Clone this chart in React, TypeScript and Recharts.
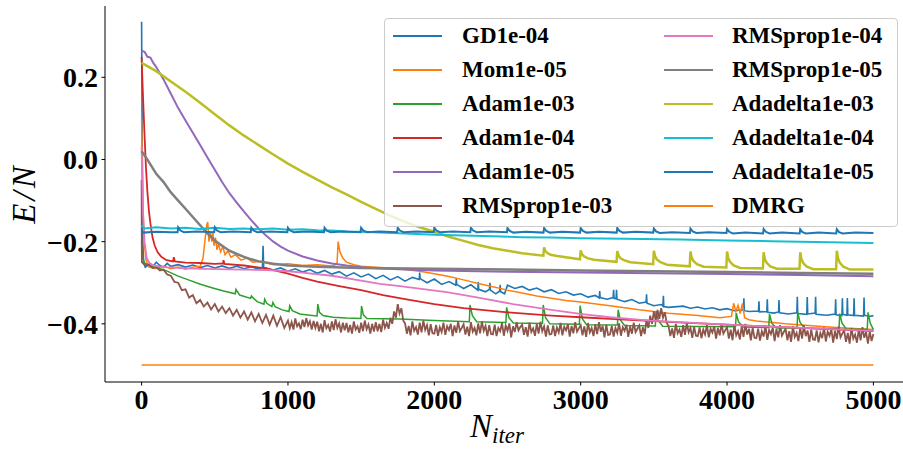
import React from 'react';
import { LineChart, Line, XAxis, YAxis, Legend } from 'recharts';

type P = [number, number];

const ITER_TICKS = [0, 1000, 2000, 3000, 4000, 5000];
const ENERGY_TICKS = [-0.4, -0.2, 0, 0.2];

const gd1e04: P[] = [[0,0.335],[4,0.05],[8,-0.2],[14,-0.25],[25,-0.262],[50,-0.256],[75,-0.262],[100,-0.25],[125,-0.258],[150,-0.262],[175,-0.253],[200,-0.26],[250,-0.256],[300,-0.262],[350,-0.257],[400,-0.263],[450,-0.258],[500,-0.264],[550,-0.259],[600,-0.265],[650,-0.26],[700,-0.266],[750,-0.261],[800,-0.267],[826,-0.262],[830,-0.21],[834,-0.263],[850,-0.264],[900,-0.269],[950,-0.264],[1000,-0.272],[1050,-0.266],[1100,-0.274],[1150,-0.268],[1200,-0.277],[1250,-0.27],[1300,-0.279],[1350,-0.273],[1400,-0.284],[1450,-0.276],[1500,-0.286],[1550,-0.279],[1600,-0.29],[1650,-0.282],[1700,-0.293],[1750,-0.285],[1800,-0.296],[1850,-0.287],[1897,-0.292],[1900,-0.275],[1903,-0.29],[1950,-0.3],[2000,-0.291],[2050,-0.304],[2100,-0.297],[2147,-0.306],[2150,-0.29],[2153,-0.304],[2200,-0.314],[2250,-0.305],[2297,-0.318],[2300,-0.298],[2303,-0.316],[2350,-0.322],[2377,-0.316],[2380,-0.3],[2383,-0.318],[2420,-0.327],[2447,-0.32],[2450,-0.305],[2453,-0.322],[2480,-0.327],[2500,-0.306],[2550,-0.314],[2600,-0.309],[2650,-0.318],[2700,-0.313],[2750,-0.322],[2800,-0.317],[2850,-0.326],[2900,-0.322],[2950,-0.33],[3000,-0.327],[3050,-0.335],[3100,-0.331],[3127,-0.337],[3130,-0.32],[3133,-0.336],[3180,-0.34],[3222,-0.336],[3225,-0.317],[3228,-0.338],[3242,-0.339],[3245,-0.317],[3248,-0.34],[3300,-0.346],[3350,-0.341],[3400,-0.35],[3447,-0.347],[3450,-0.328],[3453,-0.35],[3500,-0.356],[3550,-0.353],[3562,-0.357],[3565,-0.332],[3568,-0.358],[3600,-0.36],[3700,-0.357],[3750,-0.362],[3800,-0.359],[3850,-0.364],[3900,-0.361],[3950,-0.366],[4000,-0.363],[4050,-0.368],[4112,-0.366],[4115,-0.338],[4118,-0.368],[4150,-0.37],[4215,-0.369],[4218,-0.345],[4221,-0.371],[4272,-0.37],[4275,-0.34],[4278,-0.372],[4320,-0.374],[4352,-0.371],[4355,-0.342],[4358,-0.373],[4420,-0.376],[4477,-0.373],[4480,-0.334],[4483,-0.375],[4545,-0.377],[4548,-0.335],[4551,-0.376],[4602,-0.374],[4605,-0.334],[4608,-0.377],[4680,-0.379],[4739,-0.376],[4742,-0.34],[4745,-0.378],[4785,-0.38],[4788,-0.338],[4791,-0.377],[4819,-0.379],[4822,-0.337],[4825,-0.378],[4865,-0.38],[4868,-0.338],[4871,-0.379],[4933,-0.381],[4936,-0.336],[4939,-0.379],[4970,-0.382],[5000,-0.38]];

const mom1e05: P[] = [[0,0.1],[5,0.0],[10,-0.12],[18,-0.2],[30,-0.245],[50,-0.262],[100,-0.265],[150,-0.26],[200,-0.266],[250,-0.262],[300,-0.267],[350,-0.262],[400,-0.26],[420,-0.24],[435,-0.19],[445,-0.16],[452,-0.152],[460,-0.2],[470,-0.175],[480,-0.2],[487,-0.178],[495,-0.21],[505,-0.19],[515,-0.22],[525,-0.205],[540,-0.225],[555,-0.212],[570,-0.232],[590,-0.222],[610,-0.238],[640,-0.232],[680,-0.245],[720,-0.24],[760,-0.25],[820,-0.248],[900,-0.256],[1000,-0.254],[1100,-0.258],[1200,-0.256],[1300,-0.259],[1335,-0.255],[1343,-0.2],[1355,-0.225],[1375,-0.24],[1400,-0.25],[1450,-0.256],[1500,-0.26],[1600,-0.262],[1700,-0.265],[1800,-0.268],[1900,-0.272],[2000,-0.278],[2100,-0.285],[2200,-0.293],[2300,-0.302],[2400,-0.31],[2500,-0.318],[2600,-0.325],[2700,-0.332],[2800,-0.338],[2900,-0.343],[3000,-0.347],[3200,-0.356],[3400,-0.366],[3600,-0.374],[3800,-0.38],[3950,-0.385],[4030,-0.382],[4045,-0.35],[4060,-0.37],[4075,-0.355],[4090,-0.375],[4105,-0.35],[4120,-0.385],[4150,-0.39],[4200,-0.393],[4400,-0.4],[4600,-0.405],[4800,-0.41],[5000,-0.414]];

const adam1e03: P[] = [[0,-0.2],[8,-0.24],[20,-0.252],[50,-0.258],[100,-0.263],[171,-0.271],[250,-0.284],[320,-0.293],[397,-0.303],[480,-0.312],[560,-0.32],[640,-0.327],[645,-0.316],[655,-0.322],[670,-0.33],[745,-0.338],[750,-0.332],[765,-0.338],[790,-0.346],[836,-0.352],[841,-0.34],[855,-0.35],[890,-0.358],[897,-0.348],[912,-0.358],[960,-0.366],[1007,-0.37],[1012,-0.356],[1030,-0.368],[1081,-0.376],[1150,-0.379],[1199,-0.381],[1204,-0.352],[1215,-0.372],[1240,-0.38],[1307,-0.384],[1400,-0.386],[1498,-0.387],[1503,-0.357],[1515,-0.378],[1540,-0.387],[1765,-0.388],[2000,-0.392],[2239,-0.395],[2244,-0.354],[2260,-0.38],[2290,-0.395],[2489,-0.397],[2494,-0.36],[2510,-0.385],[2540,-0.398],[2739,-0.399],[2744,-0.354],[2760,-0.385],[2790,-0.4],[2991,-0.401],[2996,-0.356],[3012,-0.388],[3040,-0.402],[3251,-0.403],[3256,-0.366],[3270,-0.39],[3300,-0.404],[3510,-0.405],[3515,-0.37],[3530,-0.392],[3560,-0.406],[4058,-0.407],[4063,-0.374],[4078,-0.395],[4110,-0.408],[4285,-0.409],[4290,-0.376],[4305,-0.398],[4335,-0.41],[4478,-0.41],[4483,-0.372],[4498,-0.396],[4530,-0.411],[4765,-0.412],[4770,-0.375],[4785,-0.398],[4815,-0.413],[4958,-0.413],[4963,-0.372],[4978,-0.398],[5000,-0.414]];

const adam1e04: P[] = [[0,0.25],[10,0.15],[20,0.06],[30,-0.02],[40,-0.08],[50,-0.125],[60,-0.155],[75,-0.19],[90,-0.21],[110,-0.226],[135,-0.237],[170,-0.245],[215,-0.248],[220,-0.238],[228,-0.248],[300,-0.251],[400,-0.252],[500,-0.254],[556,-0.253],[560,-0.245],[566,-0.254],[700,-0.258],[850,-0.265],[1000,-0.278],[1100,-0.288],[1200,-0.297],[1350,-0.308],[1500,-0.318],[1650,-0.33],[1800,-0.34],[2000,-0.352],[2200,-0.362],[2500,-0.372],[2800,-0.38],[3000,-0.384],[3300,-0.39],[3700,-0.397],[4000,-0.402],[4500,-0.41],[5000,-0.418]];

const adam1e05: P[] = [[0,0.265],[20,0.262],[40,0.25],[60,0.248],[80,0.235],[100,0.225],[150,0.195],[200,0.16],[250,0.125],[300,0.095],[350,0.065],[400,0.035],[450,0.005],[500,-0.025],[550,-0.055],[600,-0.082],[650,-0.105],[700,-0.127],[750,-0.148],[800,-0.168],[850,-0.185],[900,-0.2],[950,-0.212],[1000,-0.222],[1100,-0.236],[1200,-0.246],[1300,-0.253],[1400,-0.258],[1500,-0.262],[1600,-0.265],[1800,-0.268],[2000,-0.27],[2500,-0.273],[3000,-0.275],[3500,-0.277],[4000,-0.279],[4500,-0.281],[5000,-0.284]];

// RMSprop1e-03: early part as (iteration, E/N) pairs, then a dense run read every 12.5 iterations from 1000 on
const rmsprop1e03Early: P[] = [[0,-0.05],[2,-0.25],[25,-0.258],[50,-0.255],[75,-0.264],[100,-0.262],[125,-0.27],[150,-0.268],[175,-0.28],[200,-0.283],[225,-0.298],[250,-0.3],[275,-0.318],[300,-0.316],[325,-0.336],[350,-0.33],[375,-0.35],[400,-0.342],[425,-0.358],[450,-0.348],[475,-0.365],[500,-0.352],[525,-0.37],[550,-0.358],[575,-0.374],[600,-0.362],[625,-0.38],[650,-0.366],[675,-0.385],[700,-0.37],[725,-0.39],[750,-0.372],[775,-0.394],[800,-0.376],[825,-0.398],[850,-0.378],[875,-0.402],[900,-0.38],[925,-0.405],[950,-0.384],[975,-0.41]];
const RMS3_DENSE_START = 1000;
const RMS3_DENSE_STEP = 12.5;
const rmsprop1e03Dense: number[] = [
  -0.392,-0.411,-0.396,-0.414,-0.387,-0.406,-0.399,-0.413,-0.39,-0.408,-0.386,-0.404,-0.394,-0.414,-0.393,-0.41,
  -0.395,-0.418,-0.4,-0.421,-0.391,-0.411,-0.403,-0.419,-0.394,-0.415,-0.389,-0.41,-0.399,-0.421,-0.397,-0.416,
  -0.398,-0.421,-0.403,-0.424,-0.394,-0.414,-0.406,-0.422,-0.397,-0.418,-0.392,-0.413,-0.402,-0.424,-0.4,-0.419,
  -0.396,-0.418,-0.4,-0.42,-0.39,-0.41,-0.398,-0.412,-0.385,-0.4,-0.37,-0.385,-0.352,-0.375,-0.362,-0.392,
  -0.399,-0.424,-0.405,-0.428,-0.394,-0.417,-0.408,-0.426,-0.397,-0.421,-0.392,-0.415,-0.403,-0.428,-0.401,-0.423,
  -0.424,-0.403,-0.429,-0.408,-0.42,-0.397,-0.427,-0.406,-0.415,-0.4,-0.43,-0.404,-0.422,-0.395,-0.418,-0.41,
  -0.401,-0.426,-0.407,-0.43,-0.396,-0.419,-0.41,-0.428,-0.399,-0.423,-0.394,-0.417,-0.405,-0.43,-0.403,-0.425,
  -0.426,-0.402,-0.43,-0.41,-0.418,-0.398,-0.429,-0.404,-0.417,-0.399,-0.433,-0.406,-0.42,-0.396,-0.416,-0.408,
  -0.402,-0.427,-0.408,-0.431,-0.397,-0.42,-0.411,-0.429,-0.4,-0.424,-0.395,-0.418,-0.406,-0.431,-0.404,-0.426,
  -0.425,-0.404,-0.43,-0.409,-0.421,-0.398,-0.428,-0.407,-0.416,-0.401,-0.431,-0.405,-0.423,-0.396,-0.419,-0.411,
  -0.403,-0.428,-0.406,-0.432,-0.398,-0.421,-0.41,-0.43,-0.401,-0.425,-0.396,-0.419,-0.405,-0.433,-0.402,-0.427,
  -0.426,-0.405,-0.431,-0.41,-0.422,-0.399,-0.429,-0.408,-0.417,-0.402,-0.432,-0.406,-0.424,-0.397,-0.42,-0.412,
  -0.404,-0.43,-0.408,-0.425,-0.39,-0.41,-0.38,-0.4,-0.37,-0.392,-0.366,-0.388,-0.362,-0.385,-0.372,-0.398,
  -0.405,-0.43,-0.411,-0.434,-0.4,-0.423,-0.414,-0.432,-0.403,-0.427,-0.398,-0.421,-0.41,-0.434,-0.407,-0.429,
  -0.43,-0.409,-0.435,-0.414,-0.426,-0.403,-0.433,-0.412,-0.421,-0.406,-0.436,-0.41,-0.428,-0.401,-0.424,-0.416,
  -0.408,-0.436,-0.414,-0.44,-0.402,-0.428,-0.418,-0.438,-0.406,-0.432,-0.4,-0.426,-0.412,-0.44,-0.41,-0.434,
  -0.435,-0.412,-0.441,-0.418,-0.431,-0.405,-0.439,-0.415,-0.425,-0.409,-0.442,-0.413,-0.433,-0.403,-0.429,-0.42,
  -0.412,-0.44,-0.418,-0.444,-0.406,-0.432,-0.422,-0.442,-0.41,-0.436,-0.404,-0.43,-0.416,-0.444,-0.414,-0.438,
  -0.439,-0.416,-0.445,-0.422,-0.435,-0.409,-0.443,-0.419,-0.429,-0.413,-0.446,-0.417,-0.437,-0.407,-0.433,-0.424,
  -0.416,-0.444,-0.422,-0.448,-0.41,-0.436,-0.426,-0.446,-0.414,-0.44,-0.408,-0.434,-0.42,-0.448,-0.418,-0.442,
  -0.425,
];
const rmsprop1e03: P[] = [
  ...rmsprop1e03Early,
  ...rmsprop1e03Dense.map((y, i): P => [RMS3_DENSE_START + i * RMS3_DENSE_STEP, y]),
];

const rmsprop1e04: P[] = [[0,0.032],[5,-0.05],[10,-0.13],[20,-0.2],[35,-0.24],[55,-0.252],[80,-0.258],[120,-0.26],[171,-0.262],[300,-0.265],[500,-0.267],[700,-0.268],[853,-0.269],[1000,-0.272],[1081,-0.275],[1300,-0.283],[1500,-0.295],[1628,-0.303],[1765,-0.308],[2085,-0.323],[2300,-0.336],[2538,-0.352],[2800,-0.366],[2996,-0.376],[3200,-0.384],[3475,-0.392],[3680,-0.396],[4000,-0.402],[4300,-0.407],[4600,-0.411],[5000,-0.417]];

const rmsprop1e05: P[] = [[0,0.02],[30,0.005],[60,-0.012],[100,-0.035],[150,-0.055],[200,-0.08],[250,-0.1],[300,-0.12],[350,-0.14],[400,-0.16],[450,-0.18],[500,-0.197],[550,-0.21],[600,-0.222],[650,-0.23],[700,-0.237],[750,-0.243],[800,-0.248],[900,-0.254],[1000,-0.258],[1200,-0.261],[1500,-0.264],[2000,-0.266],[2500,-0.268],[3000,-0.27],[3500,-0.272],[4000,-0.274],[4500,-0.276],[5000,-0.278]];

const adadelta1e03: P[] = [[0,0.235],[100,0.215],[200,0.19],[300,0.165],[400,0.138],[500,0.11],[600,0.083],[700,0.058],[800,0.035],[900,0.012],[1000,-0.01],[1100,-0.03],[1200,-0.049],[1300,-0.068],[1400,-0.085],[1500,-0.103],[1600,-0.12],[1700,-0.137],[1800,-0.152],[1900,-0.165],[2000,-0.176],[2100,-0.188],[2200,-0.198],[2300,-0.208],[2400,-0.216],[2500,-0.222],[2600,-0.228],[2745,-0.234],[2750,-0.214],[2758,-0.222],[2770,-0.227],[2795,-0.232],[2840,-0.235],[2995,-0.243],[3000,-0.221],[3008,-0.23],[3020,-0.235],[3045,-0.24],[3090,-0.244],[3245,-0.249],[3250,-0.223],[3258,-0.233],[3270,-0.24],[3295,-0.245],[3340,-0.25],[3495,-0.255],[3500,-0.222],[3508,-0.235],[3520,-0.243],[3545,-0.25],[3590,-0.256],[3745,-0.26],[3750,-0.224],[3758,-0.238],[3770,-0.247],[3795,-0.255],[3840,-0.261],[3995,-0.263],[4000,-0.224],[4008,-0.24],[4020,-0.249],[4045,-0.258],[4090,-0.264],[4245,-0.265],[4250,-0.226],[4258,-0.242],[4270,-0.251],[4295,-0.26],[4340,-0.266],[4495,-0.266],[4500,-0.226],[4508,-0.242],[4520,-0.252],[4545,-0.261],[4590,-0.267],[4745,-0.267],[4750,-0.222],[4758,-0.24],[4770,-0.251],[4795,-0.261],[4840,-0.268],[5000,-0.268]];

const adadelta1e04: P[] = [[0,-0.16],[20,-0.168],[100,-0.165],[200,-0.168],[300,-0.166],[400,-0.169],[500,-0.166],[600,-0.169],[700,-0.168],[800,-0.17],[900,-0.168],[1000,-0.171],[1100,-0.17],[1200,-0.172],[1300,-0.173],[1400,-0.175],[1500,-0.176],[1628,-0.178],[1800,-0.18],[2000,-0.183],[2200,-0.185],[2400,-0.187],[2600,-0.189],[2800,-0.19],[3000,-0.192],[3300,-0.193],[3680,-0.195],[4000,-0.197],[4300,-0.199],[4600,-0.201],[5000,-0.203]];

const adadelta1e05: P[] = [[0,-0.172],[10,-0.178],[100,-0.176],[200,-0.177],[246,-0.177],[250,-0.165],[265,-0.173],[290,-0.177],[375,-0.175],[496,-0.177],[500,-0.165],[515,-0.173],[540,-0.177],[625,-0.175],[746,-0.177],[750,-0.166],[765,-0.173],[790,-0.177],[875,-0.175],[996,-0.177],[1000,-0.166],[1015,-0.173],[1040,-0.177],[1125,-0.175],[1246,-0.177],[1250,-0.166],[1265,-0.173],[1290,-0.177],[1375,-0.175],[1496,-0.177],[1500,-0.166],[1515,-0.173],[1540,-0.177],[1625,-0.175],[1746,-0.177],[1750,-0.166],[1765,-0.173],[1790,-0.177],[1875,-0.175],[1996,-0.177],[2000,-0.166],[2015,-0.173],[2040,-0.177],[2125,-0.175],[2246,-0.177],[2250,-0.166],[2265,-0.173],[2290,-0.177],[2375,-0.175],[2496,-0.177],[2500,-0.167],[2515,-0.174],[2540,-0.178],[2625,-0.176],[2746,-0.178],[2750,-0.167],[2765,-0.174],[2790,-0.178],[2875,-0.176],[2996,-0.178],[3000,-0.167],[3015,-0.174],[3040,-0.178],[3125,-0.176],[3246,-0.178],[3250,-0.167],[3265,-0.174],[3290,-0.178],[3375,-0.176],[3496,-0.178],[3500,-0.168],[3515,-0.175],[3540,-0.179],[3625,-0.177],[3746,-0.179],[3750,-0.168],[3765,-0.175],[3790,-0.179],[3875,-0.177],[3996,-0.179],[4000,-0.169],[4015,-0.176],[4040,-0.18],[4125,-0.178],[4246,-0.18],[4250,-0.169],[4265,-0.176],[4290,-0.18],[4375,-0.178],[4496,-0.18],[4500,-0.17],[4515,-0.177],[4540,-0.18],[4625,-0.178],[4746,-0.18],[4750,-0.17],[4765,-0.177],[4790,-0.18],[4875,-0.178],[5000,-0.179]];

const dmrg: P[] = [[0,-0.5],[5000,-0.5]];

const SERIES = [
  { name: 'GD1e-04', color: '#1f77b4', width: 1.6, points: gd1e04 },
  { name: 'Mom1e-05', color: '#ff7f0e', width: 1.5, points: mom1e05 },
  { name: 'Adam1e-03', color: '#2ca02c', width: 1.5, points: adam1e03 },
  { name: 'Adam1e-04', color: '#d62728', width: 1.8, points: adam1e04 },
  { name: 'Adam1e-05', color: '#9467bd', width: 2, points: adam1e05 },
  { name: 'RMSprop1e-03', color: '#8c564b', width: 1.8, points: rmsprop1e03 },
  { name: 'RMSprop1e-04', color: '#e377c2', width: 1.8, points: rmsprop1e04 },
  { name: 'RMSprop1e-05', color: '#7f7f7f', width: 2.5, points: rmsprop1e05 },
  { name: 'Adadelta1e-03', color: '#bcbd22', width: 2.5, points: adadelta1e03 },
  { name: 'Adadelta1e-04', color: '#17becf', width: 2, points: adadelta1e04 },
  { name: 'Adadelta1e-05', color: '#1f77b4', width: 2, points: adadelta1e05 },
  { name: 'DMRG', color: '#ff7f0e', width: 1.5, points: dmrg },
];

const FONT = '"Liberation Serif", "Times New Roman", Times, serif';

const fmtY = (v: number) => (v < 0 ? '\u2212' + Math.abs(v).toFixed(1) : v.toFixed(1));

function LegendBox() {
  return (
    <div style={{ position: 'relative', width: 514, height: 209, boxSizing: 'border-box', border: '1px solid #cccccc', borderRadius: 4, background: 'rgba(255,255,255,0.8)' }}>
      {SERIES.map((s, i) => {
        const col = Math.floor(i / 6);
        const row = i % 6;
        const cy = 18 + row * 34;
        const hx = col === 0 ? 9 : 280;
        const tx = col === 0 ? 78 : 348;
        return (
          <React.Fragment key={s.name}>
            <div style={{ position: 'absolute', left: hx - 1, top: cy - 1.75, width: 49, height: 1.5, background: s.color }} />
            <div style={{ position: 'absolute', left: tx - 1, top: cy - 13, height: 24, lineHeight: '24px', fontFamily: FONT, fontWeight: 'bold', fontSize: 23, whiteSpace: 'nowrap', color: '#000' }}>{s.name}</div>
          </React.Fragment>
        );
      })}
    </div>
  );
}

const YTitle = () => (
  <text x={35} y={193.5} transform="rotate(-90 35 193.5)" textAnchor="middle" fontFamily={FONT} fontStyle="italic" fontSize={33} fill="#000" letterSpacing={3}>E/N</text>
);

const XTitle = () => (
  <text x={470} y={437} fontFamily={FONT} fontStyle="italic" fontSize={33} fill="#000">
    N<tspan fontSize={23} dy={6}>iter</tspan>
  </text>
);

export default function App() {
  return (
    <div style={{ position: 'absolute', left: 0, top: 0, width: 903, height: 449, overflow: 'hidden', background: '#fff' }}>
      <LineChart width={940} height={449} margin={{ top: 6, right: 30, bottom: 27, left: 0 }}>
        <XAxis
          dataKey="x"
          type="number"
          domain={[-250, 5250]}
          allowDataOverflow
          ticks={ITER_TICKS}
          interval={0}
          height={40}
          stroke="#000"
          tickSize={3.5}
          tickMargin={3.5}
          tick={{ fill: '#000', fontFamily: FONT, fontWeight: 'bold', fontSize: 28 }}
          label={<XTitle />}
        />
        <XAxis xAxisId="top" orientation="top" type="number" domain={[-250, 5250]} ticks={[]} tick={false} tickLine={false} height={0} stroke="#000" />
        <YAxis
          type="number"
          domain={[-0.5416, 0.3736]}
          allowDataOverflow
          ticks={ENERGY_TICKS}
          interval={0}
          width={105}
          stroke="#000"
          tickSize={3.5}
          tickMargin={3.5}
          tickFormatter={fmtY}
          tick={{ fill: '#000', fontFamily: FONT, fontWeight: 'bold', fontSize: 28 }}
          label={<YTitle />}
        />
        {SERIES.map((s) => (
          <Line
            key={s.name}
            name={s.name}
            data={s.points.map(([x, y]) => ({ x, y }))}
            dataKey="y"
            stroke={s.color}
            strokeWidth={s.width}
            dot={false}
            activeDot={false}
            type="linear"
            isAnimationActive={false}
          />
        ))}
        <Legend
          layout="vertical"
          align="center"
          verticalAlign="middle"
          content={() => <LegendBox />}
          wrapperStyle={{ left: 384, top: 18, width: 514, height: 209 }}
        />
      </LineChart>
    </div>
  );
}
